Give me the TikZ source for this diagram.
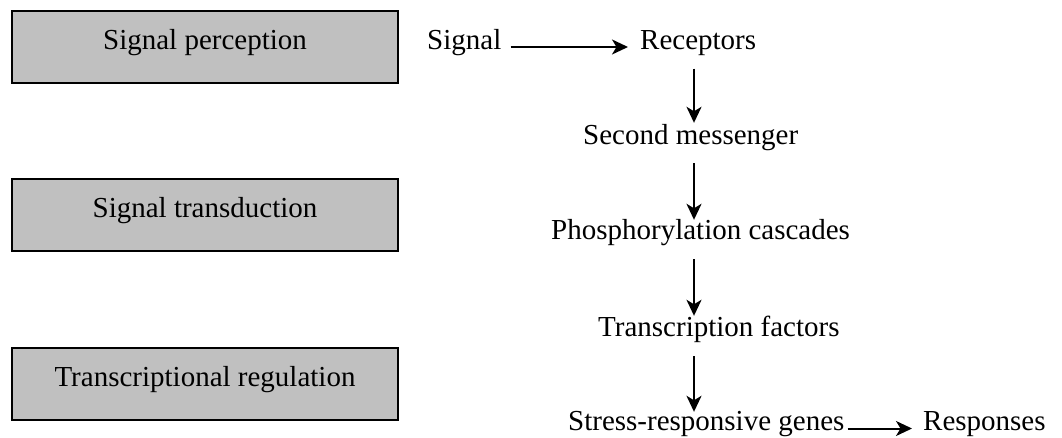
\documentclass[tikz,border=0pt]{standalone}
\usepackage{fontspec}
\setmainfont{Liberation Serif}
\usetikzlibrary{arrows.meta}
\definecolor{boxgray}{HTML}{C0C0C0}
\begin{document}
\begin{tikzpicture}[x=1pt,y=-1pt,
  lbl/.style={font=\fontsize{29}{34}\selectfont, inner sep=0pt, anchor=base west, text height=20pt, text depth=6pt},
  stagebox/.style={draw=black, line width=2pt, fill=boxgray, minimum width=386pt, minimum height=72pt, inner sep=0pt,
    text height=12pt, text depth=7pt, font=\fontsize{29}{34}\selectfont},
  arr/.style={-{Stealth[length=16pt,width=15pt,inset=4.5pt]}, line width=2pt}]
\useasboundingbox (0,0) rectangle (1062,438);
% stage boxes
\node[stagebox] (b1) at (205,47) {Signal perception};
\node[stagebox] (b2) at (205,215.5) {Signal transduction};
\node[stagebox] (b3) at (205,383.5) {Transcriptional regulation};
% pathway labels
\node[lbl] (sig) at (427,49.5) {Signal};
\node[lbl] (rec) at (640,49.5) {Receptors};
\node[lbl] (sec) at (583,145) {Second messenger};
\node[lbl] (pho) at (551,240) {Phosphorylation cascades};
\node[lbl] (tf)  at (598,336) {Transcription factors};
\node[lbl] (srg) at (568,430) {Stress-responsive genes};
\node[lbl] (res) at (923,430) {Responses};
\coordinate (ax) at (694,0);
% connectors
\draw[arr, shorten <=9pt, shorten >=12pt] ([yshift=2.5pt]sig.base east) -- ([yshift=2.5pt]rec.base west);
\draw[arr, shorten <=13pt, shorten >=2pt] (rec.south -| ax) -- (sec.north -| ax);
\draw[arr, shorten <=12pt, shorten >=0pt] (sec.south -| ax) -- (pho.north -| ax);
\draw[arr, shorten <=13pt, shorten >=0pt] (pho.south -| ax) -- (tf.north -| ax);
\draw[arr, shorten <=14pt, shorten >=-2pt] (tf.south -| ax) -- (srg.north -| ax);
\draw[arr, shorten <=3pt, shorten >=11pt] ([yshift=1.5pt]srg.base east) -- ([yshift=1.5pt]res.base west);
\end{tikzpicture}
\end{document}
